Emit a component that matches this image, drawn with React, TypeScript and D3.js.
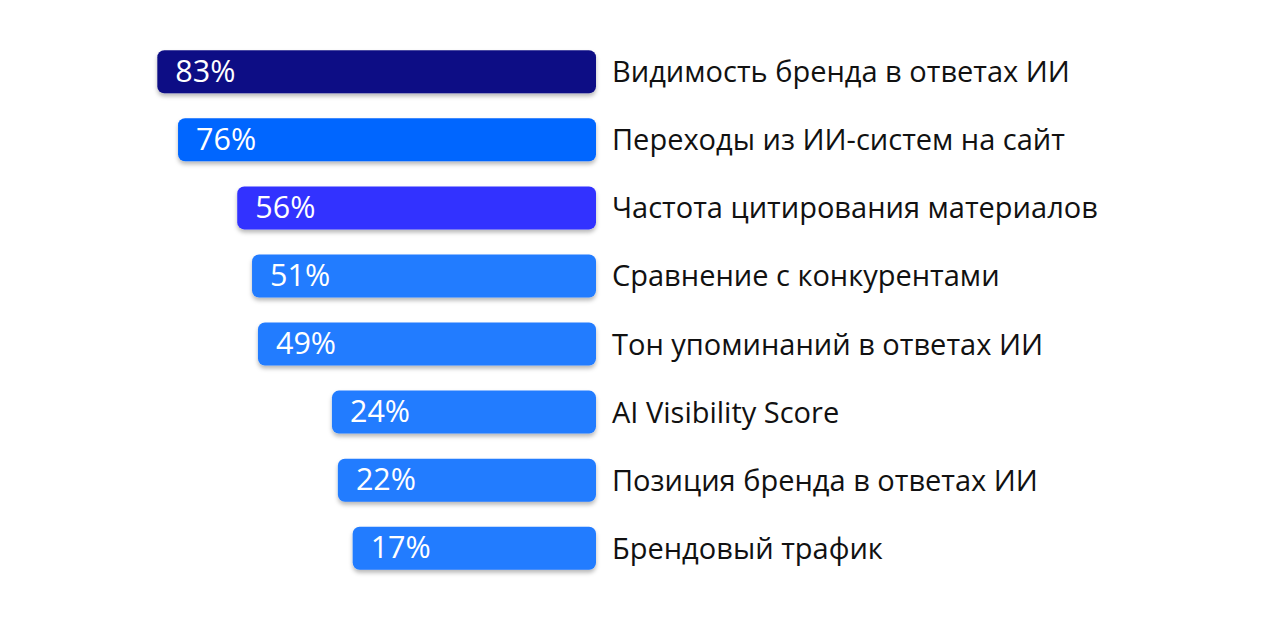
import React from "react";
import * as d3 from "d3";

const categories = [
  "Видимость бренда в ответах ИИ",
  "Переходы из ИИ-систем на сайт",
  "Частота цитирования материалов",
  "Сравнение с конкурентами",
  "Тон упоминаний в ответах ИИ",
  "AI Visibility Score",
  "Позиция бренда в ответах ИИ",
  "Брендовый трафик",
];
const values = [83, 76, 56, 51, 49, 24, 22, 17];
const colors = ["#0D0D85", "#0066FF", "#3333FF", "#217BFF", "#217BFF", "#217BFF", "#217BFF", "#217BFF"];

const W = 1263;
const H = 619;
const FONT = "'Open Sans', 'Noto Sans', sans-serif";

export default function App() {
  const barRight = 596;
  const x = d3.scaleLinear().domain([0, 100]).range([403, 107]);
  const y = d3.scaleBand<number>().domain(d3.range(values.length)).range([38, 582]).paddingInner(0.368).paddingOuter(0.18);
  const bh = y.bandwidth();
  return (
    <div style={{ position: "absolute", left: 0, top: 0 }}>
      <svg width={W} height={H} style={{ display: "block", background: "#fff" }}>
        <defs>
          <filter id="sh" x="-10%" y="-30%" width="120%" height="170%">
            <feDropShadow dx="0" dy="3" stdDeviation="2.2" floodColor="#000" floodOpacity="0.28" />
          </filter>
        </defs>
        {values.map((v, i) => {
          const y0 = y(i)!;
          const left = x(v);
          return (
            <g key={i}>
              <rect x={left} y={y0} width={barRight - left} height={bh} rx={7} ry={7} fill={colors[i]} filter="url(#sh)" />
              <text x={left + 18} y={y0 + bh / 2 + 10} fill="#fff" fontFamily={FONT} fontSize={30.5}>
                {v}%
              </text>
              <text x={612} y={y0 + bh / 2 + 10.5} fill="#111" fontFamily={FONT} fontSize={29}>
                {categories[i]}
              </text>
            </g>
          );
        })}
      </svg>
    </div>
  );
}
